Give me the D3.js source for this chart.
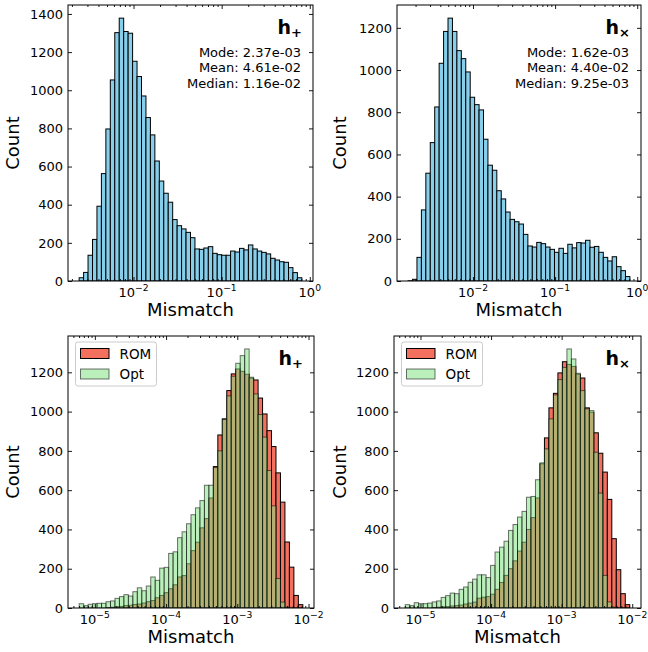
<!DOCTYPE html>
<html>
<head>
<meta charset="utf-8">
<script src="https://cdn.jsdelivr.net/npm/d3@7"></script>
<style>
  body { margin: 0; background: #fff; }
  svg { display: block; }
  text { font-family: "DejaVu Sans", sans-serif; fill: #000; }
</style>
</head>
<body>
<div id="chart"></div>
<script>
// histogram counts, 50 log-spaced bins each
var plusCounts = [17, 45, 135, 218, 392, 563, 797, 1054, 1302, 1378,
  1308, 1299, 1152, 1072, 970, 857, 766, 629, 524, 460,
  413, 322, 290, 273, 255, 227, 168, 166, 173, 180,
  145, 138, 135, 135, 157, 152, 171, 163, 189, 168,
  157, 150, 142, 119, 110, 101, 98, 70, 44, 17];
var crossCounts = [1, 8, 112, 337, 511, 656, 825, 1032, 1183, 1246,
  1183, 1092, 1054, 991, 871, 836, 811, 672, 549, 525,
  428, 389, 327, 292, 281, 270, 221, 166, 161, 183,
  177, 161, 150, 136, 155, 131, 174, 157, 182, 180,
  193, 160, 164, 136, 112, 95, 115, 68, 49, 21];
var romPlus = [0, 0, 0, 0, 0, 0, 2, 4, 6, 8,
  12, 14, 18, 20, 25, 32, 38, 52, 64, 78,
  98, 118, 158, 165, 225, 292, 335, 408, 455, 560,
  720, 881, 963, 1107, 1192, 1217, 1205, 1190, 1170, 1161,
  1069, 988, 903, 822, 688, 539, 336, 208, 64, 17];
var optPlus = [22, 12, 19, 22, 24, 24, 32, 36, 49, 58,
  68, 61, 83, 103, 88, 112, 158, 141, 203, 207,
  278, 286, 358, 388, 429, 475, 510, 547, 625, 625,
  715, 800, 960, 1080, 1180, 1246, 1285, 1319, 1175, 1090,
  985, 870, 700, 520, 150, 30, 4, 0, 0, 0];
var romCross = [0, 0, 0, 0, 0, 0, 3, 4, 6, 7,
  10, 12, 15, 20, 25, 30, 50, 55, 58, 70,
  95, 130, 166, 200, 240, 290, 335, 400, 460, 560,
  734, 866, 1019, 1093, 1197, 1254, 1240, 1230, 1190, 1171,
  1019, 997, 892, 788, 692, 553, 353, 195, 73, 17];
var optCross = [17, 12, 27, 22, 22, 25, 31, 36, 54, 63,
  76, 73, 95, 107, 131, 147, 169, 169, 155, 217,
  285, 310, 340, 395, 425, 463, 492, 564, 568, 653,
  739, 810, 963, 1085, 1163, 1225, 1319, 1268, 1195, 1107,
  1014, 1005, 793, 585, 166, 31, 5, 0, 0, 0];

// log10 of first and last bin edge
var plusBins = [-2.617, -0.09];
var crossBins = [-2.79, -0.089];
var romPlusBins = [-5.22, -2.08];
var romCrossBins = [-5.216, -2.035];

var plusStats = ["Mode: 2.37e-03", "Mean: 4.61e-02", "Median: 1.16e-02"];
var crossStats = ["Mode: 1.62e-03", "Mean: 4.40e-02", "Median: 9.25e-03"];
var legendNames = ["ROM", "Opt"];
var topYTicks = [[0, 200, 400, 600, 800, 1000, 1200, 1400], [0, 200, 400, 600, 800, 1000, 1200]];
var botYTicks = [0, 200, 400, 600, 800, 1000, 1200];
var topXTicks = [-2, -1, 0];
var botXTicks = [-5, -4, -3, -2];

var skyFill = '#87ceeb';
var romFill = '#f4705e';
var optFill = '#84e184';

var svg = d3.select('#chart').append('svg')
  .attr('width', 648)
  .attr('height', 652);

// draw one histogram panel into the svg
var drawPanel = function(p) {
  var lo = p.bins[0], hi = p.bins[1];
  var pad = (hi - lo) * 0.05;
  var x = d3.scaleLog()
    .domain([Math.pow(10, lo - pad), Math.pow(10, hi + pad)])
    .range([p.left, p.right]);
  var ymax = d3.max(p.series, function(s){ return d3.max(s.counts); }) * 1.05;
  var y = d3.scaleLinear().domain([0, ymax]).range([p.bottom, p.top]);

  var clipId = 'clip' + p.id;
  svg.append('clipPath').attr('id', clipId).append('rect')
    .attr('x', p.left).attr('y', p.top)
    .attr('width', p.right - p.left).attr('height', p.bottom - p.top);

  var g = svg.append('g');
  var n = p.series[0].counts.length;
  var step = (hi - lo) / n;

  p.series.forEach(function(s) {
    g.append('g').attr('clip-path', 'url(#' + clipId + ')')
      .selectAll('rect')
      .data(s.counts)
      .enter().append('rect')
      .attr('x', function(d, i){ return x(Math.pow(10, lo + i * step)); })
      .attr('width', function(d, i){
        return x(Math.pow(10, lo + (i + 1) * step)) - x(Math.pow(10, lo + i * step));
      })
      .attr('y', function(d){ return y(d); })
      .attr('height', function(d){ return y(0) - y(d); })
      .attr('fill', s.fill)
      .attr('fill-opacity', s.alpha)
      .attr('stroke', '#000')
      .attr('stroke-opacity', s.alpha)
      .attr('stroke-width', 1);
  });

  // minor tick values for the log axis
  var minor = [];
  var d0 = x.domain();
  for (var e = Math.floor(Math.log10(d0[0])); e <= Math.ceil(Math.log10(d0[1])); e++) {
    for (var m = 2; m < 10; m++) {
      var v = m * Math.pow(10, e);
      if (v >= d0[0] && v <= d0[1]) minor.push(v);
    }
  }
  var major = p.xticks.map(function(k){ return Math.pow(10, k); })
    .filter(function(v){ return v >= d0[0] && v <= d0[1] * 1.001; });

  var axes = [
    [d3.axisBottom(x).tickValues(major).tickSize(-4), 'translate(0,' + p.bottom + ')'],
    [d3.axisBottom(x).tickValues(minor).tickSize(-2), 'translate(0,' + p.bottom + ')'],
    [d3.axisTop(x).tickValues(major).tickSize(-4), 'translate(0,' + p.top + ')'],
    [d3.axisTop(x).tickValues(minor).tickSize(-2), 'translate(0,' + p.top + ')'],
    [d3.axisLeft(y).tickValues(p.yticks).tickSize(-4), 'translate(' + p.left + ',0)'],
    [d3.axisRight(y).tickValues(p.yticks).tickSize(-4), 'translate(' + p.right + ',0)']
  ];
  axes.forEach(function(a) {
    var ag = svg.append('g').attr('transform', a[1])
      .call(a[0].tickFormat('').tickSizeOuter(0));
    ag.select('.domain').remove();
    ag.selectAll('line').attr('stroke', '#000').attr('stroke-width', 0.9);
  });

  svg.append('rect')
    .attr('x', p.left).attr('y', p.top)
    .attr('width', p.right - p.left).attr('height', p.bottom - p.top)
    .attr('fill', 'none').attr('stroke', '#000').attr('stroke-width', 1);

  // y tick labels
  svg.append('g').selectAll('text')
    .data(p.yticks)
    .enter().append('text')
    .attr('x', p.left - 5)
    .attr('y', function(d){ return y(d); })
    .attr('dy', '0.36em')
    .attr('text-anchor', 'end')
    .style('font-size', '13px')
    .text(function(d){ return d; });

  // x tick labels as 10^k
  var xl = svg.append('g').selectAll('text')
    .data(major)
    .enter().append('text')
    .attr('x', function(d){ return x(d); })
    .attr('y', p.bottom + 16)
    .attr('text-anchor', 'middle')
    .style('font-size', '13px');
  xl.append('tspan').text('10');
  xl.append('tspan')
    .attr('dy', -6)
    .style('font-size', '9.2px')
    .text(function(d){
      var k = Math.round(Math.log10(d));
      return String(k).replace('-', '\u2212');
    });

  svg.append('text')
    .attr('x', (p.left + p.right) / 2)
    .attr('y', p.bottom + 35)
    .attr('text-anchor', 'middle')
    .style('font-size', '18px')
    .text('Mismatch');

  svg.append('text')
    .attr('transform', 'translate(' + p.ylabelX + ',' + ((p.top + p.bottom) / 2) + ') rotate(-90)')
    .attr('text-anchor', 'middle')
    .style('font-size', '18px')
    .text('Count');

  // panel title h_+ / h_x
  var t = svg.append('text')
    .attr('x', p.right - 11)
    .attr('y', p.top + 28.5)
    .attr('text-anchor', 'end')
    .style('font-size', '19px')
    .style('font-weight', 'bold');
  t.append('tspan').text('h');
  t.append('tspan').attr('dy', 3).style('font-size', '13px').text(p.sub);

  if (p.stats) {
    svg.append('g').selectAll('text')
      .data(p.stats)
      .enter().append('text')
      .attr('x', p.right - 12)
      .attr('y', function(d, i){ return p.top + 51.5 + i * 15.8; })
      .attr('text-anchor', 'end')
      .style('font-size', '13px')
      .text(function(d){ return d; });
  }

  if (p.legend) {
    var lg = svg.append('g').attr('transform', 'translate(' + (p.left + 7.5) + ',' + (p.top + 6) + ')');
    lg.append('rect')
      .attr('width', 81).attr('height', 44).attr('rx', 2.5)
      .attr('fill', '#fff').attr('fill-opacity', 0.8)
      .attr('stroke', '#cccccc').attr('stroke-width', 1);
    p.series.forEach(function(s, i) {
      lg.append('rect')
        .attr('x', 5).attr('y', 6.5 + i * 20.5)
        .attr('width', 28.5).attr('height', 10)
        .attr('fill', s.fill).attr('fill-opacity', s.alpha)
        .attr('stroke', '#000').attr('stroke-opacity', s.alpha)
        .attr('stroke-width', 1);
      lg.append('text')
        .attr('x', 44).attr('y', 16.5 + i * 20.5)
        .style('font-size', '13.5px')
        .text(legendNames[i]);
    });
  }
};

drawPanel({
  id: 0, left: 68, right: 313, top: 5, bottom: 281, ylabelX: 19,
  bins: plusBins, xticks: topXTicks, yticks: topYTicks[0], sub: '+',
  stats: plusStats,
  series: [{counts: plusCounts, fill: skyFill, alpha: 1}]
});
drawPanel({
  id: 1, left: 397, right: 641, top: 5, bottom: 281, ylabelX: 346,
  bins: crossBins, xticks: topXTicks, yticks: topYTicks[1], sub: '\u00d7',
  stats: crossStats,
  series: [{counts: crossCounts, fill: skyFill, alpha: 1}]
});
drawPanel({
  id: 2, left: 68, right: 314, top: 336, bottom: 608, ylabelX: 19,
  bins: romPlusBins, xticks: botXTicks, yticks: botYTicks, sub: '+',
  legend: true,
  series: [{counts: romPlus, fill: romFill, alpha: 1}, {counts: optPlus, fill: optFill, alpha: 0.55}]
});
drawPanel({
  id: 3, left: 394, right: 641, top: 336, bottom: 608, ylabelX: 346,
  bins: romCrossBins, xticks: botXTicks, yticks: botYTicks, sub: '\u00d7',
  legend: true,
  series: [{counts: romCross, fill: romFill, alpha: 1}, {counts: optCross, fill: optFill, alpha: 0.55}]
});
</script>
</body>
</html>
